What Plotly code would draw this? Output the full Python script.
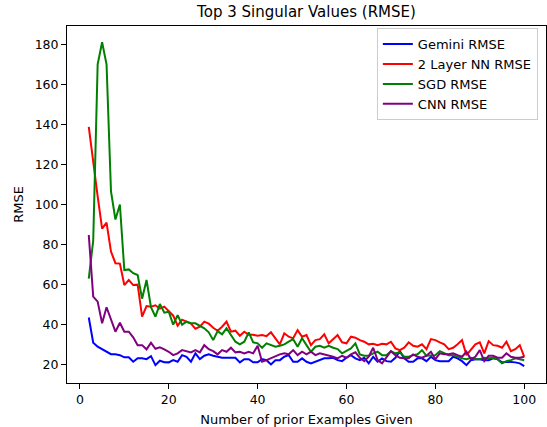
import plotly.graph_objects as go

x_vals = list(range(2, 101))

gemini_rmse = [
    43.6, 31, 29, 27.8, 26.5, 25.3, 25.2, 24.8, 23.7, 23.7, 21.5, 23.3, 23.2, 22.8, 24.3, 19.8, 22, 21.3, 21.2, 22.3,
    21.5, 24.8, 24, 21.5, 25.7, 22.8, 24.5, 25.2, 24.5, 24, 23.5, 23.5, 23.5, 23.5, 21.2, 22.8, 22.8, 21.2, 21.2, 22.8,
    22.3, 20.2, 22.3, 22.3, 24, 24.8, 21.5, 21.5, 23.2, 21.5, 20.7, 21.5, 22.3, 23.2, 23.2, 23.5, 22.3, 21.8, 23.5, 24.8,
    23.2, 22.3, 23.5, 20.7, 24, 21.5, 23.2, 21.8, 21.5, 23.5, 26.8, 23.2, 21.5, 21.5, 23.2, 23.2, 21.8, 24, 22.3,
    21.8, 21.8, 21.8, 24, 23.2, 21.8, 19.8, 22.3, 22.8, 22.8, 22.3, 22.3, 23.2, 22.8, 21.2, 21.5, 21.5, 21.2, 20.7, 19.3,
]

nn_rmse = [
    138.7, 120, 104, 88, 91, 76.5, 70.7, 70.5, 59.8, 62.3, 59.8, 60, 44, 49.3, 49, 49.7, 48, 49, 46.5, 44.5,
    39.5, 42.5, 41.5, 40.5, 38, 39, 41.5, 40.5, 38.5, 37, 39, 41.5, 36.5, 37, 34.5, 36.5, 35, 35, 34.5, 34.8,
    34.3, 36.2, 33.2, 30.2, 35.7, 34, 33.2, 37.3, 34, 34.8, 29.8, 32.3, 32.8, 35.2, 30.7, 32.8, 34.8, 31.2, 30.7, 34,
    33.5, 32.3, 31.5, 30.2, 30.5, 29.8, 30.5, 30.2, 31.5, 28.2, 27.3, 28.5, 31.2, 29.5, 29, 30.2, 27.8, 32.8, 32.3,
    31.2, 30.2, 27.8, 28.5, 30.2, 32.3, 24.8, 27.3, 30.2, 31.2, 25.7, 31.8, 29.8, 29.5, 28.5, 31.5, 26.8, 27.8, 29.8, 24,
]

sgd_rmse = [
    63, 82, 170, 181, 170, 106.5, 92.5, 100, 67.3, 67.6, 65.7, 64.8, 53, 62.3, 48.7, 44, 50.3, 46, 46.5, 40,
    44.8, 40, 41.5, 40.7, 40.7, 39.5, 38.2, 36.2, 32.3, 36.8, 35.2, 38.2, 34.5, 31.5, 30.2, 31.5, 36.2, 31.2, 30.7, 28.5,
    30.7, 29.8, 29, 29.5, 30.2, 31.5, 32.8, 29, 33.2, 29.8, 26.5, 29, 29.5, 28.5, 29.5, 28.5, 27.8, 25.7, 26.8, 28.2,
    30.7, 25.2, 24.5, 24.5, 25.7, 26.5, 24.8, 24.8, 26.8, 25.7, 26.2, 24, 24, 24.8, 25.2, 27.3, 24.5, 24.5, 24.8,
    26.8, 25.7, 24.8, 24.8, 24, 23.2, 22.8, 23.5, 22.8, 22.8, 23.5, 23.2, 23.5, 22.8, 20.7, 21.8, 22.3, 23.2, 22.8, 22.3,
]

cnn_rmse = [
    84.8, 54, 51.5, 40.7, 48.7, 43, 36.5, 41, 36.5, 36.5, 33.7, 29.8, 29.8, 27.7, 31, 28, 28.7, 27.7, 26.5, 24.8,
    25.7, 27.3, 26.8, 26.2, 27.3, 26.2, 29.8, 27.8, 26.8, 25.2, 27.3, 26.5, 28.5, 26.2, 26.5, 25.7, 26.5, 25.7, 29.5, 21.5,
    22.3, 23.2, 24.5, 25.2, 25.7, 25.2, 27.3, 24.8, 26.5, 25.2, 26.5, 24.8, 25.7, 25.2, 24.8, 24, 23.2, 24.5, 23.5, 25.2,
    26.2, 23.5, 21.8, 24, 28.5, 22.3, 20.7, 24, 26.8, 24.8, 23.5, 23.2, 23.2, 25.2, 24, 23.5, 24.5, 26.5, 22.8,
    25.7, 25.2, 25.2, 25.7, 24.8, 24, 26.5, 22.8, 24, 27.3, 21.8, 24.5, 24.5, 23.5, 23.5, 25.7, 24, 23.5, 23.5, 24,
]

series_names = ["Gemini RMSE", "2 Layer NN RMSE", "SGD RMSE", "CNN RMSE"]
series_data = [gemini_rmse, nn_rmse, sgd_rmse, cnn_rmse]
series_colors = ["#0000ff", "#ff0000", "#008000", "#800080"]

x_ticks = [0, 20, 40, 60, 80, 100]
y_ticks = [20, 40, 60, 80, 100, 120, 140, 160, 180]

fig = go.Figure()
for name, data, color in zip(series_names, series_data, series_colors):
    fig.add_trace(go.Scatter(x=x_vals, y=data, mode="lines", name=name,
                             line=dict(color=color, width=2)))

font_family = "DejaVu Sans, sans-serif"
axis_common = dict(showgrid=False, zeroline=False, showline=True, linecolor="black",
                   linewidth=1, mirror=True, ticks="outside", ticklen=5, tickwidth=1,
                   tickcolor="black", tickfont=dict(size=12.5, color="black", family=font_family))

fig.update_layout(
    width=547, height=427,
    margin=dict(l=67, r=1, t=26, b=44),
    paper_bgcolor="white", plot_bgcolor="white",
    font=dict(family=font_family, color="black"),
    title=dict(text="Top 3 Singular Values (RMSE)", x=(67 + 546) / 2 / 547, xanchor="center",
               y=1 - 12 / 427, yanchor="middle", font=dict(size=15, color="black")),
    xaxis=dict(range=[-2.9, 104.9], tickvals=x_ticks,
               title=dict(text="Number of prior Examples Given", font=dict(size=13), standoff=8),
               **axis_common),
    yaxis=dict(range=[10.9, 189.1], tickvals=y_ticks,
               title=dict(text="RMSE", font=dict(size=13), standoff=8),
               **axis_common),
    legend=dict(x=0.983, y=0.994, xanchor="right", yanchor="top",
                bgcolor="rgba(255,255,255,0.8)", bordercolor="#cccccc", borderwidth=1,
                font=dict(size=13, color="black"), tracegroupgap=0, itemwidth=30),
    showlegend=True,
)

fig.write_html("out.html", config={"displayModeBar": False},
               post_script="document.body.style.margin='0';")
